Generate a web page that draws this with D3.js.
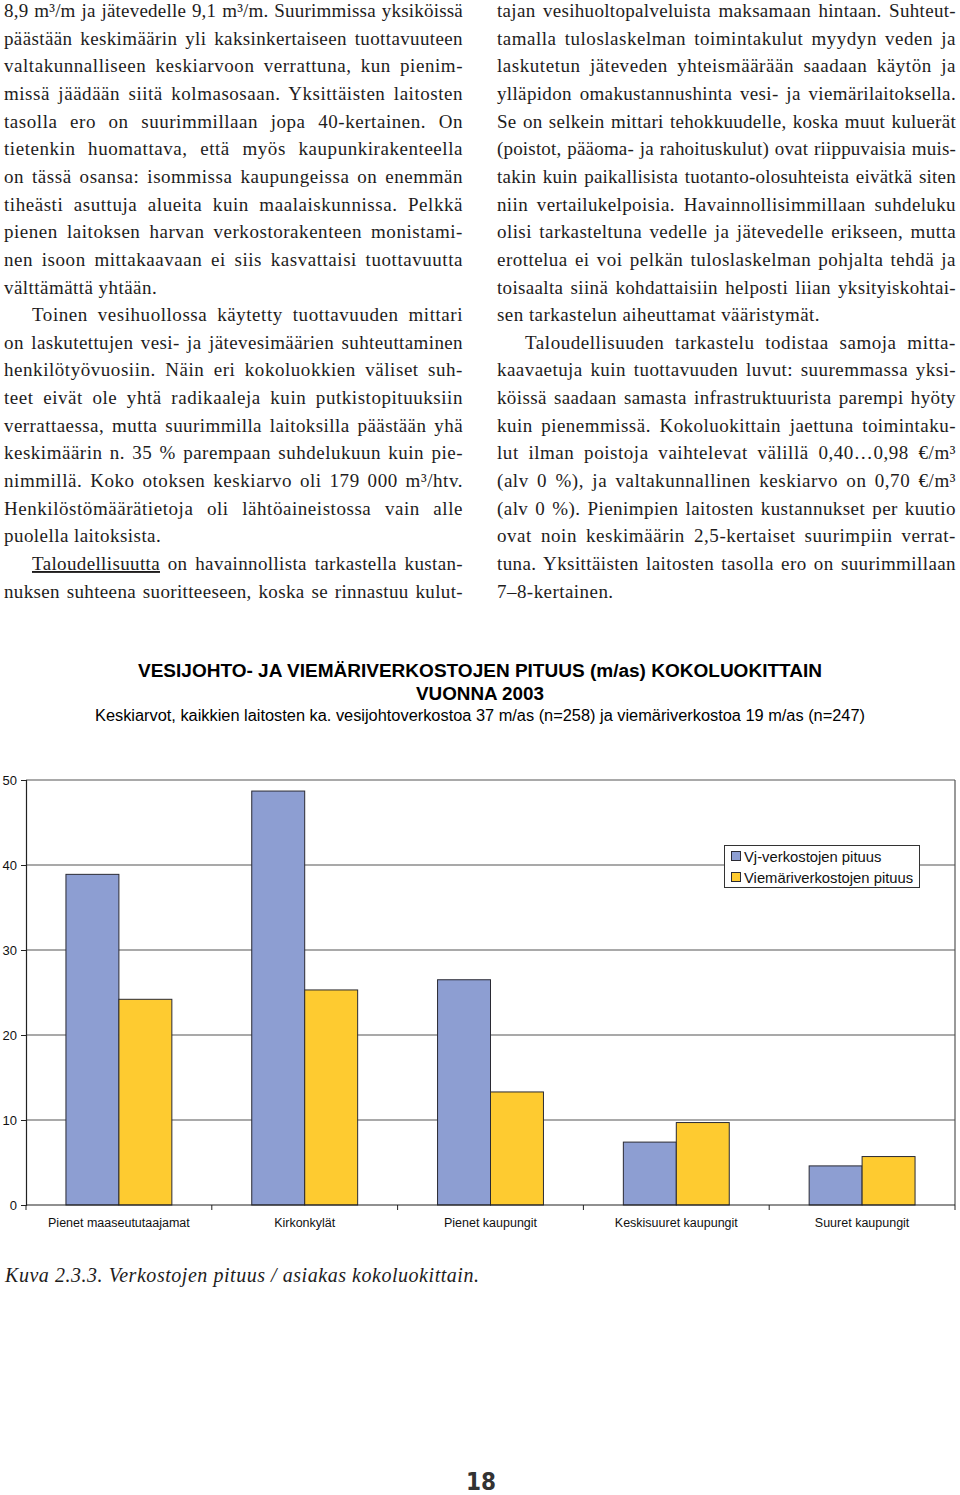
<!DOCTYPE html>
<html>
<head>
<meta charset="utf-8">
<script src="https://cdn.jsdelivr.net/npm/d3@7"></script>
<style>
  html, body { margin: 0; padding: 0; background: #fff; }
  svg { display: block; }
</style>
</head>
<body>
<svg id="page" width="960" height="1495"></svg>
<script>
// ---------------- DATA ----------------
const categories = ["Pienet maaseututaajamat", "Kirkonkylät", "Pienet kaupungit", "Keskisuuret kaupungit", "Suuret kaupungit"];
const vjValues = [38.9, 48.7, 26.5, 7.4, 4.6];
const viemariValues = [24.2, 25.3, 13.3, 9.7, 5.7];
const seriesNames = ["Vj-verkostojen pituus", "Viemäriverkostojen pituus"];
const yTicks = [0, 10, 20, 30, 40, 50];

const titleLine1 = "VESIJOHTO- JA VIEMÄRIVERKOSTOJEN PITUUS (m/as) KOKOLUOKITTAIN";
const titleLine2 = "VUONNA 2003";
const subtitle = "Keskiarvot, kaikkien laitosten ka. vesijohtoverkostoa 37 m/as (n=258) ja viemäriverkostoa 19 m/as (n=247)";
const caption = "Kuva 2.3.3. Verkostojen pituus / asiakas kokoluokittain.";
const pageNumber = "18";

const leftLines = [
  "8,9 m³/m ja jätevedelle 9,1 m³/m. Suurimmissa yksiköissä",
  "päästään keskimäärin yli kaksinkertaiseen tuottavuuteen",
  "valtakunnalliseen keskiarvoon verrattuna, kun pienim-",
  "missä jäädään siitä kolmasosaan. Yksittäisten laitosten",
  "tasolla ero on suurimmillaan jopa 40-kertainen. On",
  "tietenkin huomattava, että myös kaupunkirakenteella",
  "on tässä osansa: isommissa kaupungeissa on enemmän",
  "tiheästi asuttuja alueita kuin maalaiskunnissa. Pelkkä",
  "pienen laitoksen harvan verkostorakenteen monistami-",
  "nen isoon mittakaavaan ei siis kasvattaisi tuottavuutta",
  "välttämättä yhtään.",
  "Toinen vesihuollossa käytetty tuottavuuden mittari",
  "on laskutettujen vesi- ja jätevesimäärien suhteuttaminen",
  "henkilötyövuosiin. Näin eri kokoluokkien väliset suh-",
  "teet eivät ole yhtä radikaaleja kuin putkistopituuksiin",
  "verrattaessa, mutta suurimmilla laitoksilla päästään yhä",
  "keskimäärin n. 35 % parempaan suhdelukuun kuin pie-",
  "nimmillä. Koko otoksen keskiarvo oli 179 000 m³/htv.",
  "Henkilöstömäärätietoja oli lähtöaineistossa vain alle",
  "puolella laitoksista.",
  "_Taloudellisuutta_ on havainnollista tarkastella kustan-",
  "nuksen suhteena suoritteeseen, koska se rinnastuu kulut-"
];
const leftParaEnds = [10, 19];
const leftIndents = [11, 20];

const rightLines = [
  "tajan vesihuoltopalveluista maksamaan hintaan. Suhteut-",
  "tamalla tuloslaskelman toimintakulut myydyn veden ja",
  "laskutetun jäteveden yhteismäärään saadaan käytön ja",
  "ylläpidon omakustannushinta vesi- ja viemärilaitoksella.",
  "Se on selkein mittari tehokkuudelle, koska muut kuluerät",
  "(poistot, pääoma- ja rahoituskulut) ovat riippuvaisia muis-",
  "takin kuin paikallisista tuotanto-olosuhteista eivätkä siten",
  "niin vertailukelpoisia. Havainnollisimmillaan suhdeluku",
  "olisi tarkasteltuna vedelle ja jätevedelle erikseen, mutta",
  "erottelua ei voi pelkän tuloslaskelman pohjalta tehdä ja",
  "toisaalta siinä kohdattaisiin helposti liian yksityiskohtai-",
  "sen tarkastelun aiheuttamat vääristymät.",
  "Taloudellisuuden tarkastelu todistaa samoja mitta-",
  "kaavaetuja kuin tuottavuuden luvut: suuremmassa yksi-",
  "köissä saadaan samasta infrastruktuurista parempi hyöty",
  "kuin pienemmissä. Kokoluokittain jaettuna toimintaku-",
  "lut ilman poistoja vaihtelevat välillä 0,40…0,98 €/m³",
  "(alv 0 %), ja valtakunnallinen keskiarvo on 0,70 €/m³",
  "(alv 0 %). Pienimpien laitosten kustannukset per kuutio",
  "ovat noin keskimäärin 2,5-kertaiset suurimpiin verrat-",
  "tuna. Yksittäisten laitosten tasolla ero on suurimmillaan",
  "7–8-kertainen."
];
const rightParaEnds = [11, 21];
const rightIndents = [12];

// ---------------- PAGE ----------------
const svg = d3.select("#page");
const serif = "'Liberation Serif', 'Times New Roman', serif";
const sans = "'Liberation Sans', Arial, Helvetica, sans-serif";
const textColor = "#1e1c1c";

function drawColumn(lines, x0, width, ends, indents) {
  const g = svg.append("g")
    .attr("font-family", serif)
    .attr("font-size", 19)
    .attr("fill", textColor);
  lines.forEach((line, i) => {
    const ind = indents.includes(i) ? 28 : 0;
    const t = g.append("text")
      .attr("x", x0 + ind)
      .attr("y", 17 + i * 27.65)
      .attr("xml:space", "preserve");
    line.split("_").forEach((p, k) => {
      const ts = t.append("tspan").text(p);
      if (k % 2 === 1) ts.attr("text-decoration", "underline");
    });
    const plain = line.replace(/_/g, "");
    const chars = plain.length;
    if (!ends.includes(i)) {
      const target = width - ind;
      const nat = t.node().getComputedTextLength();
      const spaces = (plain.match(/ /g) || []).length;
      const slack = target - nat;
      if (slack > 0 && spaces > 0) {
        const ls = Math.min(0.55, (0.65 * slack) / chars);
        const rest = slack - ls * chars;
        t.attr("letter-spacing", ls.toFixed(3))
         .attr("word-spacing", (rest / spaces).toFixed(3));
      } else {
        t.attr("textLength", target).attr("lengthAdjust", "spacingAndGlyphs");
      }
    } else {
      t.attr("letter-spacing", 0.45);
    }
  });
}
drawColumn(leftLines, 4, 459, leftParaEnds, leftIndents);
drawColumn(rightLines, 497, 459, rightParaEnds, rightIndents);

// ---------------- CHART ----------------
const plot = { left: 26, right: 955, top: 780, bottom: 1205 };

svg.append("text")
  .attr("x", 480).attr("y", 677)
  .attr("text-anchor", "middle")
  .attr("font-family", sans).attr("font-weight", "bold").attr("font-size", 18)
  .attr("textLength", 684).attr("lengthAdjust", "spacingAndGlyphs")
  .text(titleLine1);
svg.append("text")
  .attr("x", 480).attr("y", 700)
  .attr("text-anchor", "middle")
  .attr("font-family", sans).attr("font-weight", "bold").attr("font-size", 18)
  .attr("textLength", 128).attr("lengthAdjust", "spacingAndGlyphs")
  .text(titleLine2);
svg.append("text")
  .attr("x", 480).attr("y", 721)
  .attr("text-anchor", "middle")
  .attr("font-family", sans).attr("font-size", 16)
  .attr("textLength", 770).attr("lengthAdjust", "spacingAndGlyphs")
  .text(subtitle);

const x0 = d3.scaleBand()
  .domain(categories)
  .range([plot.left, plot.right])
  .paddingInner(0.43)
  .paddingOuter(0.215);
const x1 = d3.scaleBand()
  .domain([0, 1])
  .range([0, x0.bandwidth()]);
const y = d3.scaleLinear()
  .domain([0, 50])
  .range([plot.bottom, plot.top]);
const colors = ["#8d9ed2", "#fecb30"];

// gridlines
svg.append("g")
  .selectAll("line")
  .data(yTicks.filter(d => d > 0))
  .join("line")
  .attr("x1", plot.left).attr("x2", plot.right)
  .attr("y1", d => y(d)).attr("y2", d => y(d))
  .attr("stroke", "#555").attr("stroke-width", 1.2);

// right border
svg.append("line")
  .attr("x1", plot.right).attr("x2", plot.right)
  .attr("y1", plot.top).attr("y2", plot.bottom)
  .attr("stroke", "#555").attr("stroke-width", 1.2);

// bars
const series = [vjValues, viemariValues];
const barG = svg.append("g");
categories.forEach((c, i) => {
  series.forEach((vals, s) => {
    barG.append("rect")
      .attr("x", x0(c) + x1(s))
      .attr("y", y(vals[i]))
      .attr("width", x1.bandwidth())
      .attr("height", y(0) - y(vals[i]))
      .attr("fill", colors[s])
      .attr("stroke", "#2a2a33")
      .attr("stroke-width", 1);
  });
});

// y axis
const yAxis = d3.axisLeft(y).tickValues(yTicks).tickSize(5).tickPadding(4).tickFormat(d3.format("d"));
const yg = svg.append("g").attr("transform", `translate(${plot.left},0)`).call(yAxis);
yg.select(".domain").attr("stroke", "#222").attr("stroke-width", 1.2);
yg.selectAll(".tick line").attr("stroke", "#222");
yg.selectAll(".tick text").attr("font-family", sans).attr("font-size", 13).attr("fill", "#111");

// x axis line with ticks at category boundaries
const bounds = categories.map(c => x0(c) - x0.step() * 0.215).concat([plot.right]);
svg.append("line")
  .attr("x1", plot.left).attr("x2", plot.right)
  .attr("y1", plot.bottom).attr("y2", plot.bottom)
  .attr("stroke", "#222").attr("stroke-width", 1.2);
svg.append("g").selectAll("line")
  .data(bounds)
  .join("line")
  .attr("x1", d => d).attr("x2", d => d)
  .attr("y1", plot.bottom).attr("y2", plot.bottom + 5)
  .attr("stroke", "#222");
svg.append("g").selectAll("text")
  .data(categories)
  .join("text")
  .attr("x", d => x0(d) + x0.bandwidth() / 2)
  .attr("y", 1227)
  .attr("text-anchor", "middle")
  .attr("font-family", sans).attr("font-size", 12.5).attr("fill", "#111")
  .text(d => d);

// legend
const lg = svg.append("g");
lg.append("rect")
  .attr("x", 724.5).attr("y", 845.5).attr("width", 195).attr("height", 42)
  .attr("fill", "#fff").attr("stroke", "#333").attr("stroke-width", 1);
seriesNames.forEach((n, i) => {
  lg.append("rect")
    .attr("x", 731.5).attr("y", 851.5 + i * 21).attr("width", 9).attr("height", 9)
    .attr("fill", colors[i]).attr("stroke", "#2a2a33").attr("stroke-width", 1);
  lg.append("text")
    .attr("x", 744).attr("y", 861.5 + i * 21)
    .attr("font-family", sans).attr("font-size", 14.8).attr("fill", "#111")
    .text(n);
});

// caption
svg.append("text")
  .attr("x", 5).attr("y", 1282)
  .attr("font-family", serif).attr("font-style", "italic").attr("font-size", 20)
  .attr("textLength", 474).attr("lengthAdjust", "spacing")
  .attr("fill", textColor)
  .text(caption);

// page number
svg.append("text")
  .attr("x", 481).attr("y", 1490)
  .attr("text-anchor", "middle")
  .attr("font-family", "'Liberation Sans Narrow', 'DejaVu Sans Condensed', sans-serif")
  .attr("font-weight", "bold").attr("font-size", 24)
  .attr("fill", "#333")
  .text(pageNumber);
</script>
</body>
</html>
